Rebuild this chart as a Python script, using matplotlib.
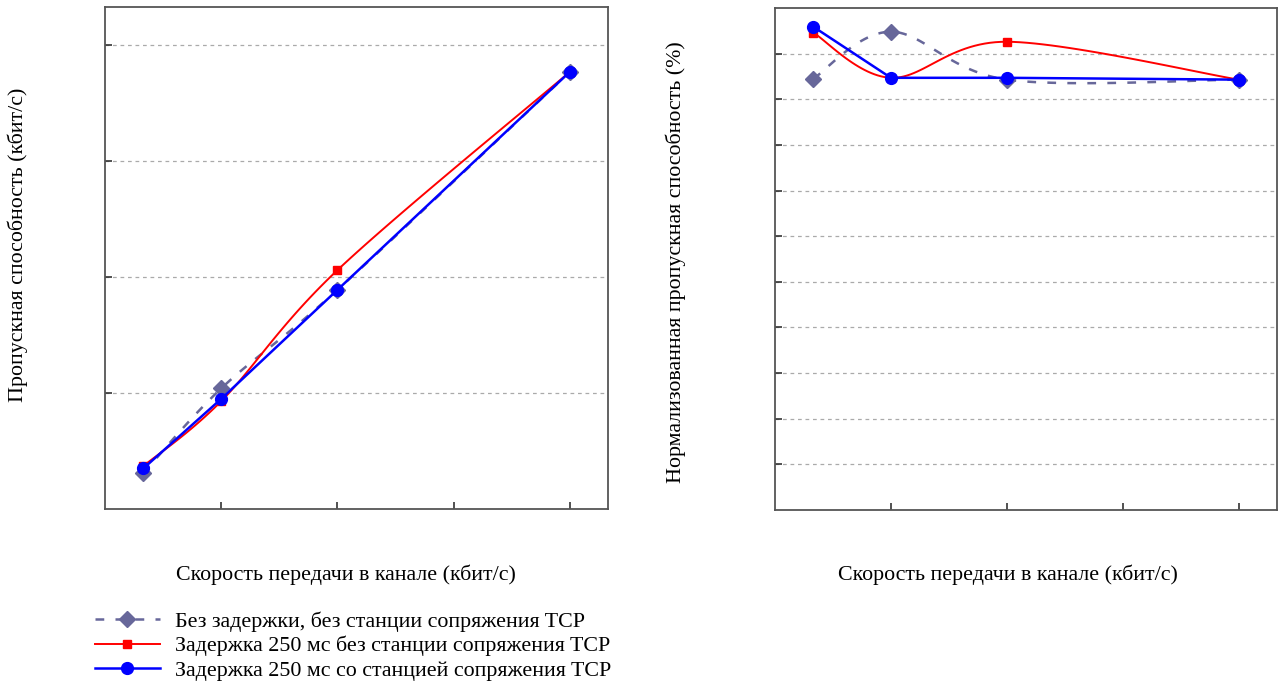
import numpy as np
import matplotlib.pyplot as plt
from matplotlib.lines import Line2D

plt.rcParams['font.family'] = 'Liberation Serif'

# ------------------------------------------------------------
# данные (ось X в долях шага сетки, метки делений не подписаны)
# ------------------------------------------------------------
rate = [0.33, 1, 2, 4]

# пропускная способность
thr_nodelay = [0.31, 1.04, 1.89, 3.77]
thr_delay = [0.37, 0.93, 2.06, 3.77]
thr_delay_tcp = [0.35, 0.95, 1.89, 3.77]

# нормализованная пропускная способность, %
norm_nodelay = [94.5, 104.8, 94.3, 94.3]
norm_delay = [104.6, 94.7, 102.6, 94.3]
norm_delay_tcp = [105.9, 94.7, 94.7, 94.3]

labels = ['Без задержки, без станции сопряжения TCP',
          'Задержка 250 мс без станции сопряжения TCP',
          'Задержка 250 мс со станцией сопряжения TCP']
xlabel = 'Скорость передачи в канале (кбит/с)'
ylabel_left = 'Пропускная способность (кбит/с)'
ylabel_right = 'Нормализованная пропускная способность (%)'

c_gray = '#67679a'
c_red = '#ff0000'
c_blue = '#0000ff'


def smooth(xs, ys, sx, sy, n=30):
    # сглаженная линия как в Excel (Безье по соседним точкам)
    p = np.column_stack([np.asarray(xs, float) / sx, np.asarray(ys, float) / sy])
    p = np.vstack([p[0], p, p[-1]])
    out = []
    t = np.linspace(0, 1, n)[:, None]
    for i in range(1, len(p) - 2):
        p0, p1, p2, p3 = p[i - 1], p[i], p[i + 1], p[i + 2]
        c1 = p1 + (p2 - p0) / 6
        c2 = p2 - (p3 - p1) / 6
        seg = ((1 - t) ** 3) * p1 + 3 * ((1 - t) ** 2) * t * c1 + 3 * (1 - t) * t ** 2 * c2 + t ** 3 * p2
        out.append(seg if i == 1 else seg[1:])
    out = np.vstack(out)
    return out[:, 0] * sx, out[:, 1] * sy


fig = plt.figure(figsize=(12.78, 6.88), dpi=100)
ax1 = fig.add_axes([0.0822, 0.2602, 0.3936, 0.7296])
ax2 = fig.add_axes([0.6064, 0.2587, 0.3928, 0.7297])


def draw(ax, y_g, y_r, y_b, ymax):
    xg, yg = smooth(rate, y_g, 4.33, ymax)
    ax.plot(xg, yg, color=c_gray, lw=1.8, dashes=(3.5, 4.5), zorder=2)
    ax.plot(rate, y_g, ls='none', marker='D', ms=8, color=c_gray, zorder=2)
    xr, yr = smooth(rate, y_r, 4.33, ymax)
    ax.plot(xr, yr, color=c_red, lw=1.4, zorder=3)
    ax.plot(rate, y_r, ls='none', marker='s', ms=5.5, color=c_red, zorder=3)
    ax.plot(rate, y_b, color=c_blue, lw=1.8, marker='o', ms=8.5, zorder=4)
    ax.set_xlim(0, 4.33)
    ax.set_ylim(0, ymax)
    ax.set_xticks([1, 2, 3, 4])
    ax.set_xticklabels([])
    ax.set_yticklabels([])
    ax.tick_params(direction='in', length=5, width=1.2, color='#333333')
    ax.grid(True, axis='y', color='#aaaaaa', ls=(0, (3, 3)), lw=0.9)
    for sp in ax.spines.values():
        sp.set_linewidth(1.3)
        sp.set_color('#555555')


draw(ax1, thr_nodelay, thr_delay, thr_delay_tcp, 4.33)
ax1.set_yticks([1, 2, 3, 4])
ax1.set_yticklabels([])

draw(ax2, norm_nodelay, norm_delay, norm_delay_tcp, 110)
ax2.set_yticks(np.arange(10, 101, 10))
ax2.set_yticklabels([])

fs = 15.8
fig.text(18 / 1278, 1 - 245 / 688, ylabel_left, rotation=90, ha='center', va='center', fontsize=fs)
fig.text(676 / 1278, 1 - 262 / 688, ylabel_right, rotation=90, ha='center', va='center', fontsize=fs)
fig.text(346 / 1278, 1 - 575 / 688, xlabel, ha='center', va='center', fontsize=fs)
fig.text(1008 / 1278, 1 - 575 / 688, xlabel, ha='center', va='center', fontsize=fs)

handles = [
    Line2D([], [], color=c_gray, lw=1.8, dashes=(3.5, 4.5), marker='D', ms=8),
    Line2D([], [], color=c_red, lw=1.4, marker='s', ms=5.5),
    Line2D([], [], color=c_blue, lw=1.8, marker='o', ms=8.5),
]
fig.legend(handles, labels, loc='upper left', bbox_to_anchor=(95 / 1278, 1 - 611 / 688),
           frameon=False, fontsize=fs, handlelength=2.95, handletextpad=0.7,
           labelspacing=0.2, borderpad=0, borderaxespad=0, numpoints=1)

fig.savefig('out.png', dpi=100, facecolor='white')
